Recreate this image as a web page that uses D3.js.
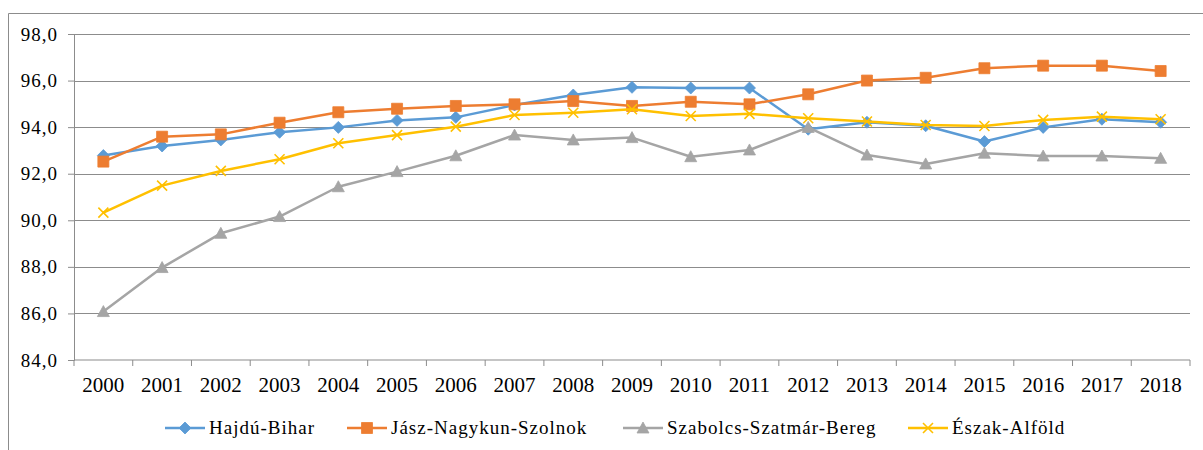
<!DOCTYPE html>
<html lang="hu">
<head>
<meta charset="UTF-8">
<title>Észak-Alföld</title>
<style>
  body { margin: 0; background: #fff; }
  svg text { font-family: "Liberation Serif", "Times New Roman", serif; }
</style>
</head>
<body>
<svg width="1203" height="450"></svg>
<script src="https://d3js.org/d3.v7.min.js"></script>
<script>
// Data

const years = ["2000", "2001", "2002", "2003", "2004", "2005", "2006", "2007", "2008", "2009",
  "2010", "2011", "2012", "2013", "2014", "2015", "2016", "2017", "2018"];

const hajduBihar = [92.78, 93.19, 93.45, 93.78, 93.99, 94.29, 94.42, 94.95, 95.38, 95.71,
  95.68, 95.68, 93.91, 94.21, 94.06, 93.38, 93.99, 94.34, 94.21];

const jaszNagykunSzolnok = [92.52, 93.59, 93.69, 94.19, 94.64, 94.79, 94.91, 94.98, 95.12, 94.91,
  95.09, 94.98, 95.41, 96.0, 96.12, 96.53, 96.64, 96.64, 96.41];

const szabolcsSzatmarBereg = [86.08, 87.97, 89.44, 90.16, 91.44, 92.09, 92.77, 93.66, 93.45, 93.55,
  92.73, 93.02, 93.99, 92.8, 92.42, 92.88, 92.76, 92.76, 92.66];

const eszakAlfold = [90.33, 91.49, 92.12, 92.62, 93.31, 93.66, 94.02, 94.52, 94.62, 94.77,
  94.48, 94.57, 94.38, 94.24, 94.09, 94.05, 94.31, 94.45, 94.34];

const yTicks = [84, 86, 88, 90, 92, 94, 96, 98];

const series = [
  { name: "Hajdú-Bihar", values: hajduBihar, color: "#5B9BD5", marker: "diamond" },
  { name: "Jász-Nagykun-Szolnok", values: jaszNagykunSzolnok, color: "#ED7D31", marker: "square" },
  { name: "Szabolcs-Szatmár-Bereg", values: szabolcsSzatmarBereg, color: "#A5A5A5", marker: "triangle" },
  { name: "Észak-Alföld", values: eszakAlfold, color: "#FFC000", marker: "cross" }
];

// Layout

const margin = { left: 74, right: 1190, top: 34, bottom: 360 };
const GRID = "#8c8c8c";

const svg = d3.select("svg");

// Outer frame (cut at the right and bottom edges)
svg.append("path")
  .attr("d", "M8.5,451 V13.5 H1204")
  .attr("fill", "none")
  .attr("stroke", GRID)
  .attr("stroke-width", 1);

const x = d3.scaleBand().domain(years).range([margin.left, margin.right]);
const y = d3.scaleLinear().domain([84, 98]).range([margin.bottom, margin.top]);

// Y axis, labels and gridlines
const yAxis = svg.append("g")
  .attr("transform", `translate(${margin.left},0)`)
  .call(d3.axisLeft(y).tickValues(yTicks).tickSize(6).tickPadding(10)
    .tickFormat(d => d3.format(".1f")(d).replace(".", ",")));
yAxis.select(".domain").attr("stroke", GRID);
yAxis.selectAll(".tick line").attr("stroke", GRID);
yAxis.selectAll(".tick text")
  .attr("font-size", 19)
  .attr("letter-spacing", 1)
  .attr("fill", "#000");

svg.append("g")
  .selectAll("line")
  .data(yTicks.filter(d => d !== 84))
  .join("line")
    .attr("x1", margin.left)
    .attr("x2", margin.right)
    .attr("y1", d => Math.round(y(d)) + 0.5)
    .attr("y2", d => Math.round(y(d)) + 0.5)
    .attr("stroke", GRID)
    .attr("stroke-width", 1.2);

// X axis with ticks between categories
const xAxis = svg.append("g")
  .attr("transform", `translate(0,${margin.bottom})`);
xAxis.append("line")
  .attr("x1", margin.left).attr("x2", margin.right)
  .attr("stroke", GRID).attr("stroke-width", 1.2);
xAxis.selectAll(".sep")
  .data(years.map(d => x(d)).concat([margin.right]))
  .join("line")
    .attr("class", "sep")
    .attr("x1", d => d).attr("x2", d => d)
    .attr("y1", 0).attr("y2", 6)
    .attr("stroke", GRID);
xAxis.selectAll("text")
  .data(years)
  .join("text")
    .attr("x", d => x(d) + x.bandwidth() / 2)
    .attr("y", 32)
    .attr("text-anchor", "middle")
    .attr("font-size", 21)
    .attr("fill", "#000")
    .text(d => d);

// Markers

const markerPath = (type) => {
  if (type === "diamond") return "M0,-6L6,0L0,6L-6,0Z";
  if (type === "square") return "M-5.5,-5.5H5.5V5.5H-5.5Z";
  if (type === "triangle") return "M0,-6L6,5L-6,5Z";
  return "M-5,-5L5,5M-5,5L5,-5";
};

const drawMarker = (g, s, cx, cy) => {
  g.append("path")
    .attr("transform", `translate(${cx},${cy})`)
    .attr("d", markerPath(s.marker))
    .attr("fill", s.marker === "cross" ? "none" : s.color)
    .attr("stroke", s.color)
    .attr("stroke-width", s.marker === "cross" ? 1.6 : 0.8);
};

const line = d3.line()
  .x((d, i) => x(years[i]) + x.bandwidth() / 2)
  .y(d => y(d));

series.forEach(s => {
  const g = svg.append("g");
  g.append("path")
    .datum(s.values)
    .attr("d", line)
    .attr("fill", "none")
    .attr("stroke", s.color)
    .attr("stroke-width", 2.5)
    .attr("stroke-linejoin", "round");
  s.values.forEach((v, i) => drawMarker(g, s, x(years[i]) + x.bandwidth() / 2, y(v)));
});

// Legend

const legendX = [165, 347, 623, 908];
const legend = svg.append("g");
series.forEach((s, i) => {
  const g = legend.append("g").attr("transform", `translate(${legendX[i]},428)`);
  g.append("line")
    .attr("x1", 0).attr("x2", 40)
    .attr("stroke", s.color).attr("stroke-width", 2.5);
  drawMarker(g, s, 20, 0);
  g.append("text")
    .attr("x", 44)
    .attr("y", 6)
    .attr("font-size", 19)
    .attr("letter-spacing", 1)
    .attr("fill", "#000")
    .text(s.name);
});
</script>
</body>
</html>
